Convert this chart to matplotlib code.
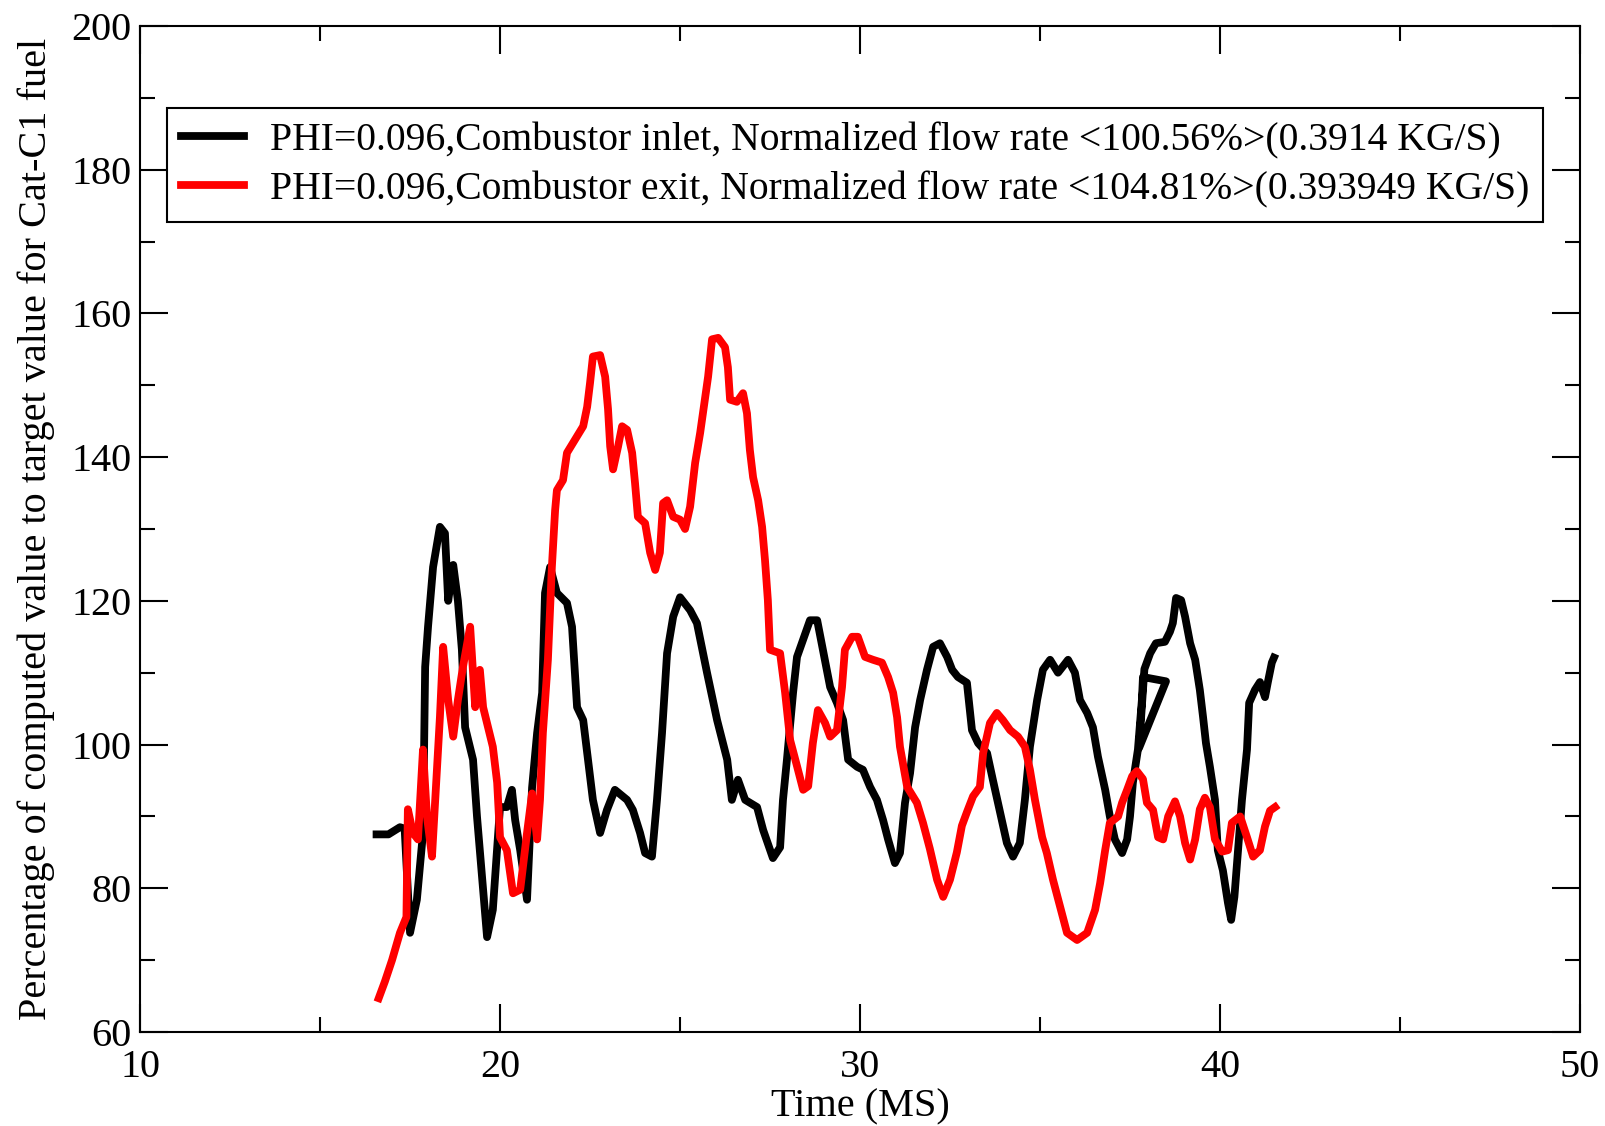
import numpy as np
import matplotlib.pyplot as plt
from matplotlib.ticker import MultipleLocator

# combustor inlet (black)
inlet_t = [16.57, 16.9, 17.22, 17.35, 17.5, 17.69, 17.86, 17.92, 18.0, 18.14, 18.33, 18.47,
           18.56, 18.7, 18.83, 18.94, 19.03, 19.25, 19.36, 19.64, 19.8, 20.0, 20.19, 20.33,
           20.42, 20.56, 20.75, 20.89, 21.03, 21.17, 21.25, 21.39, 21.58, 21.86, 22.0, 22.14,
           22.31, 22.58, 22.78, 22.97, 23.19, 23.53, 23.69, 23.89, 24.03, 24.22, 24.36, 24.5,
           24.64, 24.81, 25.0, 25.28, 25.47, 25.75, 26.03, 26.31, 26.44, 26.61, 26.81, 27.14,
           27.31, 27.58, 27.78, 27.86, 27.97, 28.14, 28.25, 28.42, 28.61, 28.81, 28.97, 29.17,
           29.36, 29.53, 29.67, 29.92, 30.08, 30.28, 30.47, 30.64, 30.78, 30.97, 31.11, 31.25,
           31.39, 31.53, 31.67, 31.86, 32.03, 32.22, 32.42, 32.56, 32.72, 32.97, 33.11, 33.28,
           33.53, 33.69, 33.89, 34.08, 34.25, 34.44, 34.58, 34.72, 34.92, 35.08, 35.28, 35.5,
           35.78, 35.97, 36.11, 36.31, 36.47, 36.61, 36.81, 36.94, 37.08, 37.28, 37.42, 37.5,
           37.58, 37.72, 37.83, 37.86, 38.5, 37.75, 37.9, 38.06, 38.22, 38.47, 38.61, 38.69,
           38.78, 38.92, 39.03, 39.17, 39.31, 39.44, 39.53, 39.61, 39.72, 39.86, 39.94, 40.08,
           40.22, 40.31, 40.4, 40.5, 40.61, 40.75, 40.81, 40.97, 41.11, 41.25, 41.33, 41.44, 41.5]
inlet_v = [87.5, 87.5, 88.5, 88.3, 73.8, 78.4, 87.7, 110.8, 116.4, 124.7, 130.3, 129.4,
           120, 125, 120, 113.2, 102.4, 97.9, 90, 73.2, 77, 91.3, 91.3, 93.7,
           89.5, 85.3, 78.4, 94, 101.6, 107.2, 121.1, 124.7, 121.1, 119.7, 116.4, 105.2,
           103.4, 92.3, 87.7, 90.9, 93.7, 92.3, 90.9, 87.7, 84.9, 84.4, 92.3, 101.6,
           112.7, 117.8, 120.5, 118.7, 116.9, 110, 103.4, 97.9, 92.3, 95.1, 92.3, 91.3,
           88.1, 84.2, 85.7, 92.3, 97.9, 107.2, 112.2, 114.6, 117.3, 117.3, 113.2, 108,
           105.8, 103.4, 97.9, 96.9, 96.5, 94.1, 92.3, 89.5, 86.8, 83.5, 84.9, 91.9,
           96, 102.4, 106.2, 110.4, 113.6, 114.1, 112.2, 110.4, 109.4, 108.6, 102, 100.2,
           98.8, 95.1, 90.6, 86.3, 84.4, 86.3, 92.3, 99.7, 106.2, 110.4, 111.8, 110,
           111.8, 110, 106.2, 104.4, 102.4, 98.3, 93.7, 90, 86.8, 84.9, 86.8, 90,
           94.7, 99.3, 106.2, 109.4, 108.8, 99.5, 110.5, 112.7, 114.1, 114.3, 115.7, 116.9,
           120.4, 120.1, 117.8, 114.1, 111.8, 107.6, 103.8, 100.2, 96.9, 92.3, 85.3, 82.5,
           78, 75.6, 78.8, 85.3, 92.3, 99.3, 105.8, 107.6, 108.7, 106.6, 108.7, 111.4, 112.1]

# combustor exit (red)
exit_t = [16.63, 16.8, 17.0, 17.22, 17.4, 17.44, 17.58, 17.72, 17.86, 17.97, 18.11, 18.25,
          18.33, 18.42, 18.56, 18.7, 18.83, 18.97, 19.17, 19.31, 19.44, 19.53, 19.8, 19.92,
          20.0, 20.19, 20.36, 20.56, 20.75, 20.89, 21.03, 21.11, 21.19, 21.33, 21.44, 21.53,
          21.58, 21.75, 21.86, 22.08, 22.31, 22.42, 22.5, 22.58, 22.78, 22.92, 23.0, 23.06,
          23.14, 23.28, 23.39, 23.53, 23.67, 23.75, 23.83, 24.03, 24.17, 24.31, 24.44, 24.53,
          24.64, 24.81, 25.0, 25.14, 25.28, 25.42, 25.56, 25.69, 25.78, 25.89, 26.06, 26.25,
          26.33, 26.39, 26.58, 26.75, 26.86, 26.94, 27.03, 27.17, 27.28, 27.36, 27.44, 27.5,
          27.78, 27.92, 28.06, 28.25, 28.42, 28.56, 28.69, 28.83, 29.03, 29.17, 29.36, 29.5,
          29.58, 29.78, 29.94, 30.14, 30.36, 30.61, 30.78, 30.92, 31.03, 31.11, 31.31, 31.58,
          31.75, 31.94, 32.14, 32.31, 32.5, 32.69, 32.83, 32.97, 33.14, 33.33, 33.42, 33.61,
          33.8, 33.97, 34.17, 34.39, 34.58, 34.72, 34.86, 35.06, 35.19, 35.36, 35.56, 35.75,
          36.03, 36.31, 36.53, 36.67, 36.81, 36.94, 37.17, 37.28, 37.42, 37.56, 37.69, 37.86,
          37.97, 38.14, 38.28, 38.42, 38.56, 38.75, 38.89, 39.03, 39.17, 39.31, 39.44, 39.58,
          39.72, 39.86, 40.06, 40.22, 40.33, 40.56, 40.75, 40.92, 41.11, 41.25, 41.39, 41.53]
exit_v = [64.7, 67, 70, 73.8, 76, 91, 87.7, 86.8, 99.3, 90, 84.4, 96.9,
          103.8, 113.6, 106.2, 101.1, 106.2, 110.8, 116.4, 105.2, 110.4, 105.2, 99.7, 94.7,
          87.1, 85.3, 79.3, 79.8, 87.7, 93.2, 86.8, 92.3, 101.6, 111.8, 124.7, 132.6,
          135.4, 136.8, 140.6, 142.4, 144.3, 147, 150.3, 154, 154.2, 151.2, 146.7, 141.5,
          138.3, 141.5, 144.3, 143.8, 140.6, 136.4, 131.7, 130.8, 126.7, 124.3, 126.7, 133.6,
          134, 131.7, 131.3, 130, 133.1, 139.2, 143.4, 148, 151.2, 156.4, 156.6, 155.3,
          152.5, 148, 147.7, 148.9, 146.1, 141, 137.2, 134, 130.3, 125.7, 120.1, 113.2,
          112.7, 107.2, 100.6, 97, 93.7, 94.2, 100.2, 104.8, 103, 101.1, 102, 108,
          113.2, 115, 115, 112.2, 111.8, 111.4, 109.4, 107.2, 103.8, 99.7, 94.1, 91.9,
          89.1, 85.5, 81.2, 78.8, 81.2, 85, 88.7, 90.6, 92.8, 94.1, 98.8, 103,
          104.4, 103.4, 102, 101.1, 99.7, 96.5, 92.3, 87.1, 84.9, 81.2, 77.4, 73.8,
          72.8, 73.8, 77, 80.7, 85.3, 89.1, 90, 91.9, 93.7, 95.6, 96.3, 95.2,
          91.9, 90.9, 87.1, 86.8, 90, 92.1, 90, 86.3, 84, 86.8, 91, 92.6,
          91.3, 86.8, 85.1, 85.3, 89.1, 90, 87.1, 84.4, 85.3, 88.6, 90.8, 91.3]

labels = ["PHI=0.096,Combustor inlet, Normalized flow rate <100.56%>(0.3914 KG/S)",
          "PHI=0.096,Combustor exit, Normalized flow rate <104.81%>(0.393949 KG/S)"]

plt.rcParams['font.family'] = ['Liberation Serif', 'DejaVu Serif']

fig = plt.figure(figsize=(16.06, 11.26), dpi=100)
ax = fig.add_axes([0.0872, 0.0835, 0.8966, 0.8934])

ax.plot(inlet_t, inlet_v, color='black', lw=5.6, label=labels[0])
ax.plot(exit_t, exit_v, color='red', lw=5.6, label=labels[1])

ax.set_xlim(10, 50)
ax.set_ylim(60, 200)
ax.xaxis.set_major_locator(MultipleLocator(10))
ax.xaxis.set_minor_locator(MultipleLocator(5))
ax.yaxis.set_major_locator(MultipleLocator(20))
ax.yaxis.set_minor_locator(MultipleLocator(10))
ax.tick_params(which='both', direction='in', top=True, right=True, width=1.5, labelsize=29)
ax.tick_params(axis='x', pad=12)
ax.tick_params(axis='y', pad=6)
ax.tick_params(which='major', length=20)
ax.tick_params(which='minor', length=11)
for s in ax.spines.values():
    s.set_linewidth(1.5)

ax.set_xlabel("Time (MS)", fontsize=29, labelpad=2)
ax.set_ylabel("Percentage of computed value to target value for Cat-C1 fuel", fontsize=29, labelpad=12)

leg = ax.legend(loc='upper left', bbox_to_anchor=(0.0188, 0.9185), fontsize=28.5,
                fancybox=False, edgecolor='black', framealpha=1, handlelength=1.6,
                borderpad=0.35, labelspacing=0.3, handletextpad=0.65, borderaxespad=0)
leg.get_frame().set_linewidth(1.5)

fig.savefig("out.png", dpi=100)
